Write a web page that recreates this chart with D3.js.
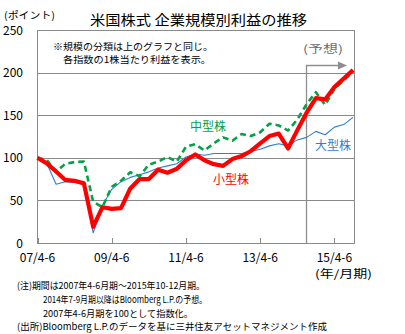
<!DOCTYPE html>
<html>
<head>
<meta charset="utf-8">
<script src="https://cdn.jsdelivr.net/npm/d3@7"></script>
<style>
  html, body { margin: 0; padding: 0; background: #fff; }
  svg { display: block; }
  text { font-family: "Noto Sans CJK JP", "Liberation Sans", sans-serif; }
</style>
</head>
<body>
<svg id="chart" width="405" height="334"></svg>
<script>
// Quarterly periods 2007 Q2 (4-6) .. 2015 Q4 (10-12)
const quarterNames = ["1-3", "4-6", "7-9", "10-12"];
const periods = [];
for (let yr = 2007; yr <= 2015; yr++) {
  for (let q = 0; q < 4; q++) {
    if (yr === 2007 && q === 0) continue;
    periods.push(String(yr % 100).padStart(2, "0") + "/" + quarterNames[q]);
  }
}

// EPS index (2007 4-6 = 100)
const largeCap = [100, 93.5, 69, 72, 71, 69, 12, 44, 63, 72, 77, 80, 83.5, 88, 90.5, 93, 101, 104.5,
  103, 105, 105, 105, 105, 107.5, 110, 114, 116.5, 114, 121, 124, 131, 127, 136, 139, 147.5];
const midCap = [100, 97.5, 83.5, 93, 95, 95.5, 48.5, 42, 66, 73, 83, 78.5, 92, 95.5, 101, 95.5, 113, 116,
  108.5, 117, 124, 120, 128, 125.5, 130, 140, 138, 132, 145, 163, 177, 162, 181, 191, 201];
const smallCap = [100, 93.5, 84, 74, 73, 70, 19, 42, 40, 41, 64, 75, 75, 86, 82.5, 87, 97, 104,
  97, 92.5, 90.5, 98.5, 102, 108, 117, 125.5, 128.5, 111, 132.5, 153, 170, 168.5, 183, 193, 203];

const yTicks = [0, 50, 100, 150, 200, 250];
const xTickLabels = ["07/4-6", "09/4-6", "11/4-6", "13/4-6", "15/4-6"];
const forecastStart = "14/7-9";

const titleText = "米国株式 企業規模別利益の推移";
const unitText = "(ポイント)";
const periodUnit = "(年/月期)";
const boxLines = ["※規模の分類は上のグラフと同じ。", "各指数の1株当たり利益を表示。"];
const forecastLabel = "(予想)";
const notes = [
  "(注)期間は2007年4-6月期～2015年10-12月期。",
  "2014年7-9月期以降はBloomberg L.P.の予想。",
  "2007年4-6月期を100として指数化。",
  "(出所)Bloomberg L.P.のデータを基に三井住友アセットマネジメント作成"
];

const series = [
  { name: "大型株", values: largeCap, color: "#2f7fd0", width: 1.1, dash: null },
  { name: "中型株", values: midCap, color: "#00a347", width: 2.6, dash: "6,4" },
  { name: "小型株", values: smallCap, color: "#ff0000", width: 4.2, dash: null }
];

const svg = d3.select("#chart");
const plotLeft = 37, plotRight = 354, plotTop = 30, plotBottom = 243;

const x = d3.scaleLinear().domain([0, periods.length - 1]).range([plotLeft + 0.5, plotRight - 1]);
const y = d3.scaleLinear().domain([0, 250]).range([plotBottom, plotTop]);

// Title and unit
svg.append("text").attr("x", 90).attr("y", 25)
  .attr("font-size", 14).attr("textLength", 217).attr("lengthAdjust", "spacingAndGlyphs")
  .text(titleText);
svg.append("text").attr("x", 4).attr("y", 19)
  .attr("font-size", 10).attr("textLength", 51).attr("lengthAdjust", "spacingAndGlyphs")
  .text(unitText);

// Horizontal grid
svg.append("g").selectAll("line").data(yTicks).join("line")
  .attr("x1", plotLeft).attr("x2", plotRight)
  .attr("y1", d => Math.round(y(d)) + 0.5).attr("y2", d => Math.round(y(d)) + 0.5)
  .attr("stroke", "#8a8a8a").attr("stroke-width", 1);

// Frame
svg.append("rect").attr("x", plotLeft + 0.5).attr("y", plotTop + 0.5)
  .attr("width", plotRight - plotLeft).attr("height", plotBottom - plotTop)
  .attr("fill", "none").attr("stroke", "#8a8a8a").attr("stroke-width", 1);

// Y tick labels
svg.append("g").selectAll("text").data(yTicks).join("text")
  .attr("x", 23).attr("y", d => y(d) + 4.5)
  .attr("text-anchor", "end").attr("font-size", 12)
  .attr("font-family", "Liberation Sans, Arial, sans-serif")
  .text(d => d);

// X ticks and labels
const xTickIdx = xTickLabels.map(l => periods.indexOf(l));
svg.append("g").selectAll("line").data(xTickIdx).join("line")
  .attr("x1", d => Math.round(x(d)) + 0.5).attr("x2", d => Math.round(x(d)) + 0.5)
  .attr("y1", plotBottom).attr("y2", plotBottom - 5)
  .attr("stroke", "#8a8a8a");
svg.append("g").selectAll("text").data(xTickIdx).join("text")
  .attr("x", d => x(d)).attr("y", 262)
  .attr("text-anchor", "middle").attr("font-size", 12)
  .attr("font-family", "Liberation Sans, Arial, sans-serif")
  .text(d => periods[d]);
svg.append("text").attr("x", 315).attr("y", 278)
  .attr("font-size", 11).attr("textLength", 57).attr("lengthAdjust", "spacingAndGlyphs")
  .text(periodUnit);

// Forecast marker
const fx = Math.round(x(periods.indexOf(forecastStart))) - 0.5;
svg.append("path")
  .attr("d", `M${fx},${plotBottom} V65.5 H339`)
  .attr("fill", "none").attr("stroke", "#8e8e8e").attr("stroke-width", 1.3);
svg.append("path")
  .attr("d", "M338,61.5 L347,65.5 L338,69.5 Z")
  .attr("fill", "#8e8e8e");
svg.append("text").attr("x", 303).attr("y", 53)
  .attr("font-size", 11).attr("fill", "#6e6e6e")
  .attr("textLength", 40).attr("lengthAdjust", "spacingAndGlyphs")
  .text(forecastLabel);

// Note box text
svg.append("text").attr("x", 53).attr("y", 49.5)
  .attr("font-size", 9.5).attr("textLength", 160).attr("lengthAdjust", "spacingAndGlyphs")
  .text(boxLines[0]);
svg.append("text").attr("x", 63).attr("y", 62.5)
  .attr("font-size", 9.5).attr("textLength", 148).attr("lengthAdjust", "spacingAndGlyphs")
  .text(boxLines[1]);

// Lines
const line = d3.line().x((d, i) => x(i)).y(d => y(d));
svg.append("g").selectAll("path").data(series).join("path")
  .attr("d", d => line(d.values))
  .attr("fill", "none")
  .attr("stroke", d => d.color)
  .attr("stroke-width", d => d.width)
  .attr("stroke-dasharray", d => d.dash)
  .attr("stroke-linejoin", "round");

// Series labels
const labelPos = { "大型株": [315, 150], "中型株": [190, 131], "小型株": [213, 184] };
svg.append("g").selectAll("text").data(series).join("text")
  .attr("x", d => labelPos[d.name][0]).attr("y", d => labelPos[d.name][1])
  .attr("font-size", 12).attr("fill", d => d.color)
  .attr("textLength", 36).attr("lengthAdjust", "spacingAndGlyphs")
  .text(d => d.name);

// Footnotes
const noteX = [17, 43, 43, 17];
const noteW = [188, 164, 150, 310];
const noteY = [289, 303, 316.5, 330];
svg.append("g").selectAll("text").data(notes).join("text")
  .attr("x", (d, i) => noteX[i]).attr("y", (d, i) => noteY[i])
  .attr("font-size", 9.3)
  .attr("textLength", (d, i) => noteW[i]).attr("lengthAdjust", "spacingAndGlyphs")
  .text(d => d);
</script>
</body>
</html>
